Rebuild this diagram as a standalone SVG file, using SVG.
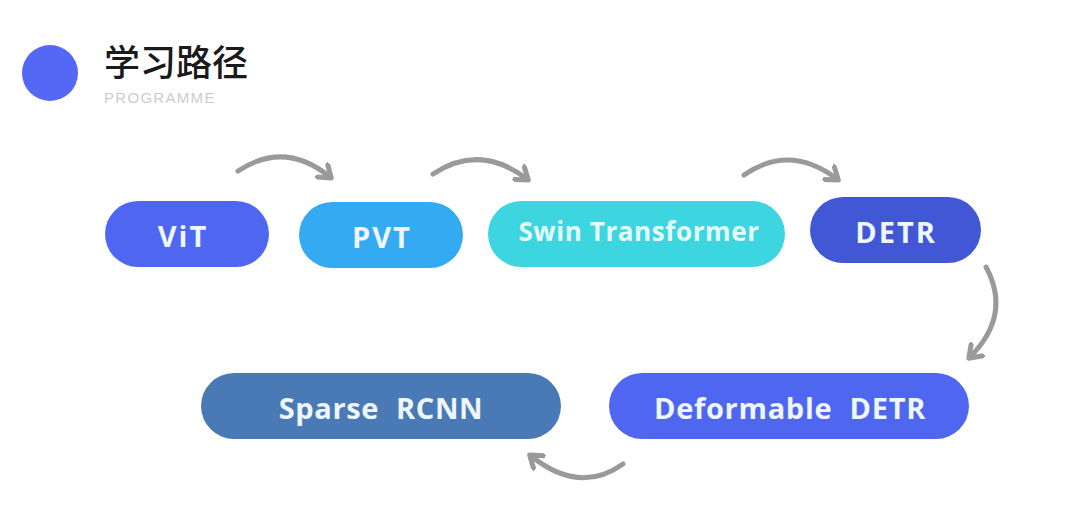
<svg xmlns="http://www.w3.org/2000/svg" width="1080" height="517" viewBox="0 0 1080 517">
<defs>
<style>
.lbl{font-family:"Open Sans","Noto Sans","Liberation Sans",sans-serif;font-weight:700;fill:#eef6ff;text-anchor:middle;dominant-baseline:central}
.conn{fill:none;stroke:#9a9a9a;stroke-width:5;stroke-linecap:round}
</style>
<marker id="ah" viewBox="0 0 12 12" refX="7" refY="6" markerWidth="4" markerHeight="4" orient="auto" markerUnits="strokeWidth">
<path d="M1,1 L8,6 L1,11" fill="none" stroke="#9a9a9a" stroke-width="3" stroke-linecap="round" stroke-linejoin="round"/>
</marker>
</defs>
<rect width="1080" height="517" fill="#ffffff"/>
<g id="header">
<circle cx="50" cy="73" r="28" fill="#5468f5"/>
<text x="104" y="76" font-family="'Noto Sans CJK SC',sans-serif" font-size="36" font-weight="500" fill="#1a1a1a">学习路径</text>
<text x="104" y="103" font-family="'Liberation Sans',sans-serif" font-size="15" letter-spacing="1.3" fill="#cccccc">PROGRAMME</text>
</g>
<g id="connectors">
<path class="conn" marker-end="url(#ah)" d="M238,171 Q285,140 330,177"/>
<path class="conn" marker-end="url(#ah)" d="M433,174 Q480,143 527,179"/>
<path class="conn" marker-end="url(#ah)" d="M744,175 Q790,143 837,179"/>
<path class="conn" marker-end="url(#ah)" d="M986,267 Q1012,315 970,357"/>
<path class="conn" marker-end="url(#ah)" d="M623,464 Q580,495 531,456"/>
</g>
<g id="vit"><rect x="105" y="201" width="164" height="66" rx="33" fill="#4f66f0"/><text class="lbl" x="183" y="235" font-size="29" style="letter-spacing:2px">ViT</text></g>
<g id="pvt"><rect x="299" y="202" width="164" height="66" rx="33" fill="#33aaf2"/><text class="lbl" x="382" y="236" font-size="29" style="letter-spacing:2px">PVT</text></g>
<g id="swin"><rect x="488" y="201" width="297" height="66" rx="33" fill="#3dd6e0"/><text class="lbl" x="639" y="231" font-size="26" style="letter-spacing:0.6px;fill:#e6fbfc">Swin Transformer</text></g>
<g id="detr"><rect x="810" y="197" width="171" height="66" rx="33" fill="#4257d6"/><text class="lbl" x="896" y="231" font-size="29" style="letter-spacing:2px">DETR</text></g>
<g id="deformable"><rect x="609" y="373" width="360" height="66" rx="33" fill="#4f66f0"/><text class="lbl" x="790" y="407" font-size="29" style="letter-spacing:0.7px;word-spacing:9px">Deformable DETR</text></g>
<g id="sparse"><rect x="201" y="373" width="360" height="66" rx="33" fill="#4a7ab5"/><text class="lbl" x="381" y="407" font-size="29" style="letter-spacing:0.6px;word-spacing:9px">Sparse RCNN</text></g>
</svg>
